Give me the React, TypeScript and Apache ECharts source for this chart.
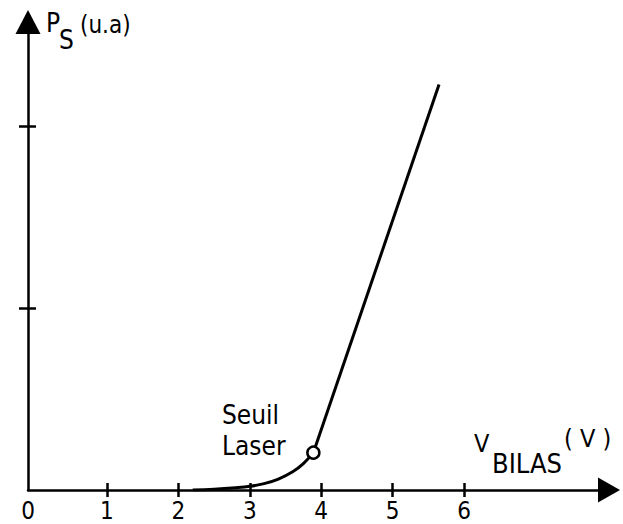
import React, { useEffect, useRef } from "react";
import * as echarts from "echarts";

// ---- data ----
const X_MIN = -0.106;
const X_MAX = 8.03;
const Y_MAX = 2.57;
const xTickValues = [1, 2, 3, 4, 5, 6];
const xLabelValues = [X_MIN, 1, 2, 3, 4, 5, 6];
const xTickLabels = ["0", "1", "2", "3", "4", "5", "6"];
const yTickValues = [1, 2];

// sub-threshold curve (spontaneous emission)
const curveX = [2.2, 2.5, 2.8, 3.0, 3.2, 3.4, 3.6, 3.75, 3.89];
const curveY = [0, 0.004, 0.012, 0.02, 0.035, 0.06, 0.1, 0.145, 0.205];
// above-threshold linear part
const lineX = [3.89, 5.65];
const lineY = [0.205, 2.227];
// threshold point
const thresholdX = [3.89];
const thresholdY = [0.205];

const FONT = "'DejaVu Sans Condensed', 'DejaVu Sans', sans-serif";

export default function App() {
  const ref = useRef<HTMLDivElement>(null);
  useEffect(() => {
    if (!ref.current) return;
    const chart = echarts.init(ref.current, undefined, { renderer: "svg" });
    const axisLineStyle = { color: "#000", width: 2.5 };
    const option: any = {
      animation: false,
      backgroundColor: "#fff",
      grid: { left: 28, right: 14, top: 22, bottom: 34, containLabel: false },
      xAxis: [
        {
          type: "value",
          min: X_MIN,
          max: X_MAX,
          position: "bottom",
          axisLine: {
            show: true,
            onZero: false,
            lineStyle: axisLineStyle,
            symbol: ["none", "triangle"],
            symbolSize: [25, 22],
          },
          axisTick: {
            show: true,
            customValues: xTickValues,
            length: 7,
            lineStyle: axisLineStyle,
          },
          axisLabel: {
            show: true,
            customValues: xLabelValues,
            formatter: (v: number) => {
              const i = xLabelValues.findIndex((x) => Math.abs(x - v) < 1e-6);
              return i >= 0 ? xTickLabels[i] : "";
            },
            color: "#000",
            fontSize: 24,
            lineHeight: 24,
            fontFamily: FONT,
            margin: 9,
          },
          splitLine: { show: false },
        },
        {
          type: "value",
          min: X_MIN,
          max: X_MAX,
          position: "bottom",
          axisLine: { show: false, onZero: false },
          axisTick: {
            show: true,
            inside: true,
            customValues: xTickValues,
            length: 7,
            lineStyle: axisLineStyle,
          },
          axisLabel: { show: false },
          splitLine: { show: false },
        },
      ],
      yAxis: [
        {
          type: "value",
          min: 0,
          max: Y_MAX,
          position: "left",
          axisLine: {
            show: true,
            onZero: false,
            lineStyle: axisLineStyle,
            symbol: ["none", "triangle"],
            symbolSize: [25, 24],
          },
          axisTick: {
            show: true,
            customValues: yTickValues,
            length: 9,
            lineStyle: axisLineStyle,
          },
          axisLabel: { show: false },
          splitLine: { show: false },
        },
        {
          type: "value",
          min: 0,
          max: Y_MAX,
          position: "left",
          axisLine: { show: false, onZero: false },
          axisTick: {
            show: true,
            inside: true,
            customValues: yTickValues,
            length: 8,
            lineStyle: axisLineStyle,
          },
          axisLabel: { show: false },
          splitLine: { show: false },
        },
      ],
      series: [
        {
          type: "line",
          data: curveX.map((x, i) => [x, curveY[i]]),
          smooth: 0.4,
          showSymbol: false,
          lineStyle: { color: "#000", width: 3 },
          z: 3,
        },
        {
          type: "line",
          data: lineX.map((x, i) => [x, lineY[i]]),
          showSymbol: false,
          lineStyle: { color: "#000", width: 3 },
          z: 3,
        },
        {
          type: "scatter",
          data: thresholdX.map((x, i) => [x, thresholdY[i]]),
          symbol: "circle",
          symbolSize: 12,
          itemStyle: { color: "#fff", borderColor: "#000", borderWidth: 2.5, opacity: 1 },
          z: 5,
        },
      ],
      graphic: [
        { type: "text", x: 46, y: 23, style: { text: "P", font: `26px ${FONT}`, fill: "#000", verticalAlign: "middle" } },
        { type: "text", x: 59, y: 40, style: { text: "S", font: `26px ${FONT}`, fill: "#000", verticalAlign: "middle" } },
        { type: "text", x: 80, y: 25, style: { text: "(u.a)", font: `24px ${FONT}`, fill: "#000", verticalAlign: "middle" } },
        { type: "text", x: 222, y: 415, style: { text: "Seuil", font: `26px ${FONT}`, fill: "#000", verticalAlign: "middle" } },
        { type: "text", x: 222, y: 446, style: { text: "Laser", font: `26px ${FONT}`, fill: "#000", verticalAlign: "middle" } },
        { type: "text", x: 474, y: 443, style: { text: "V", font: `25px ${FONT}`, fill: "#000", verticalAlign: "middle" } },
        { type: "text", x: 492, y: 463, style: { text: "BILAS", font: `27px ${FONT}`, fill: "#000", verticalAlign: "middle" } },
        { type: "text", x: 564, y: 438, style: { text: "( V )", font: `25px ${FONT}`, fill: "#000", verticalAlign: "middle" } },
      ],
    };
    chart.setOption(option);
    return () => chart.dispose();
  }, []);
  return (
    <div
      ref={ref}
      style={{ position: "absolute", left: 0, top: 0, width: 623, height: 524, background: "#fff" }}
    />
  );
}
